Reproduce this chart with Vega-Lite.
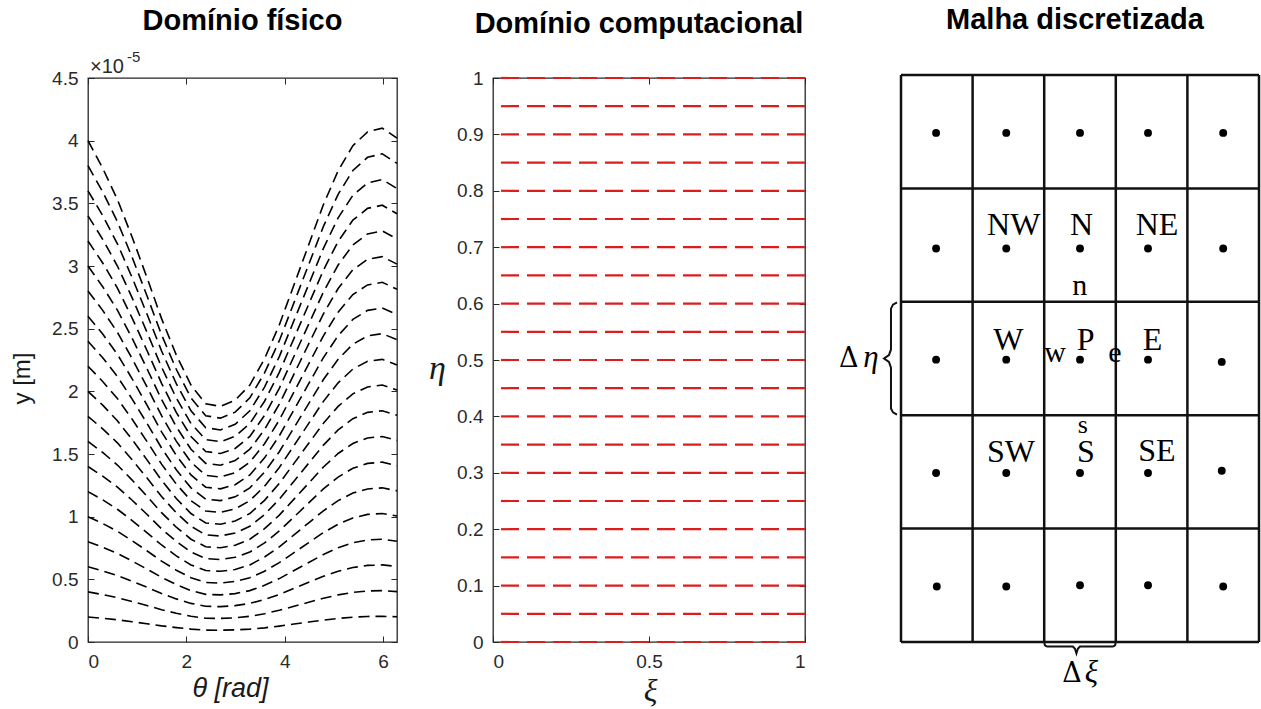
{
"$schema":"https://vega.github.io/schema/vega-lite/v6.json",
"autosize":{"type":"none"},
"padding":{"left":88,"top":78,"right":1173,"bottom":631},
"background":"white",
"spacing":96,
"bounds":"flush",
"config":{
 "view":{"stroke":"#262626","strokeWidth":1.3},
 "axis":{"labelFont":"Liberation Sans","labelFontSize":19,"labelColor":"#2a2a2a","tickColor":"#262626","tickSize":-6,"tickWidth":1,"labelPadding":16,"domain":false,"grid":false,"titleFont":"Liberation Sans","titleFontWeight":"normal","titleColor":"#1a1a1a"},
 "title":{"font":"Liberation Sans","fontSize":29,"fontWeight":"bold","color":"#000000","anchor":"middle","frame":"group"}
},
"hconcat":[
{
"width":309,"height":564,
"title":{"text":"Domínio físico","offset":14},
"resolve":{"axis":{"x":"independent","y":"independent"}},
"layer":[
{"data":{"values":[
{"k":1,"t":0,"y":0.2},{"k":1,"t":0.299,"y":0.189},{"k":1,"t":0.598,"y":0.177},{"k":1,"t":0.898,"y":0.162},{"k":1,"t":1.197,"y":0.146},{"k":1,"t":1.496,"y":0.129},{"k":1,"t":1.795,"y":0.115},{"k":1,"t":2.094,"y":0.103},{"k":1,"t":2.394,"y":0.095},{"k":1,"t":2.693,"y":0.094},{"k":1,"t":2.992,"y":0.097},{"k":1,"t":3.291,"y":0.103},{"k":1,"t":3.59,"y":0.113},{"k":1,"t":3.89,"y":0.127},{"k":1,"t":4.189,"y":0.143},{"k":1,"t":4.488,"y":0.159},{"k":1,"t":4.787,"y":0.175},{"k":1,"t":5.086,"y":0.188},{"k":1,"t":5.386,"y":0.198},{"k":1,"t":5.685,"y":0.204},{"k":1,"t":5.984,"y":0.205},{"k":1,"t":6.283,"y":0.201},
{"k":2,"t":0,"y":0.4},{"k":2,"t":0.299,"y":0.378},{"k":2,"t":0.598,"y":0.353},{"k":2,"t":0.898,"y":0.323},{"k":2,"t":1.197,"y":0.291},{"k":2,"t":1.496,"y":0.258},{"k":2,"t":1.795,"y":0.229},{"k":2,"t":2.094,"y":0.205},{"k":2,"t":2.394,"y":0.19},{"k":2,"t":2.693,"y":0.188},{"k":2,"t":2.992,"y":0.193},{"k":2,"t":3.291,"y":0.205},{"k":2,"t":3.59,"y":0.226},{"k":2,"t":3.89,"y":0.253},{"k":2,"t":4.189,"y":0.285},{"k":2,"t":4.488,"y":0.317},{"k":2,"t":4.787,"y":0.349},{"k":2,"t":5.086,"y":0.376},{"k":2,"t":5.386,"y":0.396},{"k":2,"t":5.685,"y":0.407},{"k":2,"t":5.984,"y":0.41},{"k":2,"t":6.283,"y":0.402},
{"k":3,"t":0,"y":0.6},{"k":3,"t":0.299,"y":0.567},{"k":3,"t":0.598,"y":0.53},{"k":3,"t":0.898,"y":0.485},{"k":3,"t":1.197,"y":0.437},{"k":3,"t":1.496,"y":0.387},{"k":3,"t":1.795,"y":0.344},{"k":3,"t":2.094,"y":0.308},{"k":3,"t":2.394,"y":0.285},{"k":3,"t":2.693,"y":0.282},{"k":3,"t":2.992,"y":0.29},{"k":3,"t":3.291,"y":0.308},{"k":3,"t":3.59,"y":0.339},{"k":3,"t":3.89,"y":0.38},{"k":3,"t":4.189,"y":0.428},{"k":3,"t":4.488,"y":0.476},{"k":3,"t":4.787,"y":0.524},{"k":3,"t":5.086,"y":0.564},{"k":3,"t":5.386,"y":0.594},{"k":3,"t":5.685,"y":0.611},{"k":3,"t":5.984,"y":0.615},{"k":3,"t":6.283,"y":0.603},
{"k":4,"t":0,"y":0.8},{"k":4,"t":0.299,"y":0.756},{"k":4,"t":0.598,"y":0.706},{"k":4,"t":0.898,"y":0.646},{"k":4,"t":1.197,"y":0.582},{"k":4,"t":1.496,"y":0.516},{"k":4,"t":1.795,"y":0.458},{"k":4,"t":2.094,"y":0.41},{"k":4,"t":2.394,"y":0.38},{"k":4,"t":2.693,"y":0.376},{"k":4,"t":2.992,"y":0.386},{"k":4,"t":3.291,"y":0.41},{"k":4,"t":3.59,"y":0.452},{"k":4,"t":3.89,"y":0.506},{"k":4,"t":4.189,"y":0.57},{"k":4,"t":4.488,"y":0.634},{"k":4,"t":4.787,"y":0.698},{"k":4,"t":5.086,"y":0.752},{"k":4,"t":5.386,"y":0.792},{"k":4,"t":5.685,"y":0.814},{"k":4,"t":5.984,"y":0.82},{"k":4,"t":6.283,"y":0.804},
{"k":5,"t":0,"y":1},{"k":5,"t":0.299,"y":0.945},{"k":5,"t":0.598,"y":0.883},{"k":5,"t":0.898,"y":0.808},{"k":5,"t":1.197,"y":0.728},{"k":5,"t":1.496,"y":0.645},{"k":5,"t":1.795,"y":0.573},{"k":5,"t":2.094,"y":0.513},{"k":5,"t":2.394,"y":0.475},{"k":5,"t":2.693,"y":0.47},{"k":5,"t":2.992,"y":0.483},{"k":5,"t":3.291,"y":0.513},{"k":5,"t":3.59,"y":0.565},{"k":5,"t":3.89,"y":0.633},{"k":5,"t":4.189,"y":0.713},{"k":5,"t":4.488,"y":0.793},{"k":5,"t":4.787,"y":0.873},{"k":5,"t":5.086,"y":0.94},{"k":5,"t":5.386,"y":0.99},{"k":5,"t":5.685,"y":1.018},{"k":5,"t":5.984,"y":1.025},{"k":5,"t":6.283,"y":1.005},
{"k":6,"t":0,"y":1.2},{"k":6,"t":0.299,"y":1.134},{"k":6,"t":0.598,"y":1.059},{"k":6,"t":0.898,"y":0.969},{"k":6,"t":1.197,"y":0.873},{"k":6,"t":1.496,"y":0.774},{"k":6,"t":1.795,"y":0.687},{"k":6,"t":2.094,"y":0.615},{"k":6,"t":2.394,"y":0.57},{"k":6,"t":2.693,"y":0.564},{"k":6,"t":2.992,"y":0.579},{"k":6,"t":3.291,"y":0.615},{"k":6,"t":3.59,"y":0.678},{"k":6,"t":3.89,"y":0.759},{"k":6,"t":4.189,"y":0.855},{"k":6,"t":4.488,"y":0.951},{"k":6,"t":4.787,"y":1.047},{"k":6,"t":5.086,"y":1.128},{"k":6,"t":5.386,"y":1.188},{"k":6,"t":5.685,"y":1.221},{"k":6,"t":5.984,"y":1.23},{"k":6,"t":6.283,"y":1.206},
{"k":7,"t":0,"y":1.4},{"k":7,"t":0.299,"y":1.323},{"k":7,"t":0.598,"y":1.236},{"k":7,"t":0.898,"y":1.131},{"k":7,"t":1.197,"y":1.019},{"k":7,"t":1.496,"y":0.903},{"k":7,"t":1.795,"y":0.802},{"k":7,"t":2.094,"y":0.718},{"k":7,"t":2.394,"y":0.665},{"k":7,"t":2.693,"y":0.658},{"k":7,"t":2.992,"y":0.676},{"k":7,"t":3.291,"y":0.718},{"k":7,"t":3.59,"y":0.791},{"k":7,"t":3.89,"y":0.886},{"k":7,"t":4.189,"y":0.998},{"k":7,"t":4.488,"y":1.11},{"k":7,"t":4.787,"y":1.222},{"k":7,"t":5.086,"y":1.316},{"k":7,"t":5.386,"y":1.386},{"k":7,"t":5.685,"y":1.425},{"k":7,"t":5.984,"y":1.435},{"k":7,"t":6.283,"y":1.407},
{"k":8,"t":0,"y":1.6},{"k":8,"t":0.299,"y":1.512},{"k":8,"t":0.598,"y":1.412},{"k":8,"t":0.898,"y":1.292},{"k":8,"t":1.197,"y":1.164},{"k":8,"t":1.496,"y":1.032},{"k":8,"t":1.795,"y":0.916},{"k":8,"t":2.094,"y":0.82},{"k":8,"t":2.394,"y":0.76},{"k":8,"t":2.693,"y":0.752},{"k":8,"t":2.992,"y":0.772},{"k":8,"t":3.291,"y":0.82},{"k":8,"t":3.59,"y":0.904},{"k":8,"t":3.89,"y":1.012},{"k":8,"t":4.189,"y":1.14},{"k":8,"t":4.488,"y":1.268},{"k":8,"t":4.787,"y":1.396},{"k":8,"t":5.086,"y":1.504},{"k":8,"t":5.386,"y":1.584},{"k":8,"t":5.685,"y":1.628},{"k":8,"t":5.984,"y":1.64},{"k":8,"t":6.283,"y":1.608},
{"k":9,"t":0,"y":1.8},{"k":9,"t":0.299,"y":1.701},{"k":9,"t":0.598,"y":1.589},{"k":9,"t":0.898,"y":1.454},{"k":9,"t":1.197,"y":1.31},{"k":9,"t":1.496,"y":1.161},{"k":9,"t":1.795,"y":1.031},{"k":9,"t":2.094,"y":0.923},{"k":9,"t":2.394,"y":0.855},{"k":9,"t":2.693,"y":0.846},{"k":9,"t":2.992,"y":0.869},{"k":9,"t":3.291,"y":0.923},{"k":9,"t":3.59,"y":1.017},{"k":9,"t":3.89,"y":1.139},{"k":9,"t":4.189,"y":1.283},{"k":9,"t":4.488,"y":1.427},{"k":9,"t":4.787,"y":1.571},{"k":9,"t":5.086,"y":1.692},{"k":9,"t":5.386,"y":1.782},{"k":9,"t":5.685,"y":1.832},{"k":9,"t":5.984,"y":1.845},{"k":9,"t":6.283,"y":1.809},
{"k":10,"t":0,"y":2},{"k":10,"t":0.299,"y":1.89},{"k":10,"t":0.598,"y":1.765},{"k":10,"t":0.898,"y":1.615},{"k":10,"t":1.197,"y":1.455},{"k":10,"t":1.496,"y":1.29},{"k":10,"t":1.795,"y":1.145},{"k":10,"t":2.094,"y":1.025},{"k":10,"t":2.394,"y":0.95},{"k":10,"t":2.693,"y":0.94},{"k":10,"t":2.992,"y":0.965},{"k":10,"t":3.291,"y":1.025},{"k":10,"t":3.59,"y":1.13},{"k":10,"t":3.89,"y":1.265},{"k":10,"t":4.189,"y":1.425},{"k":10,"t":4.488,"y":1.585},{"k":10,"t":4.787,"y":1.745},{"k":10,"t":5.086,"y":1.88},{"k":10,"t":5.386,"y":1.98},{"k":10,"t":5.685,"y":2.035},{"k":10,"t":5.984,"y":2.05},{"k":10,"t":6.283,"y":2.01},
{"k":11,"t":0,"y":2.2},{"k":11,"t":0.299,"y":2.079},{"k":11,"t":0.598,"y":1.942},{"k":11,"t":0.898,"y":1.777},{"k":11,"t":1.197,"y":1.601},{"k":11,"t":1.496,"y":1.419},{"k":11,"t":1.795,"y":1.26},{"k":11,"t":2.094,"y":1.128},{"k":11,"t":2.394,"y":1.045},{"k":11,"t":2.693,"y":1.034},{"k":11,"t":2.992,"y":1.062},{"k":11,"t":3.291,"y":1.128},{"k":11,"t":3.59,"y":1.243},{"k":11,"t":3.89,"y":1.392},{"k":11,"t":4.189,"y":1.568},{"k":11,"t":4.488,"y":1.744},{"k":11,"t":4.787,"y":1.92},{"k":11,"t":5.086,"y":2.068},{"k":11,"t":5.386,"y":2.178},{"k":11,"t":5.685,"y":2.239},{"k":11,"t":5.984,"y":2.255},{"k":11,"t":6.283,"y":2.211},
{"k":12,"t":0,"y":2.4},{"k":12,"t":0.299,"y":2.268},{"k":12,"t":0.598,"y":2.118},{"k":12,"t":0.898,"y":1.938},{"k":12,"t":1.197,"y":1.746},{"k":12,"t":1.496,"y":1.548},{"k":12,"t":1.795,"y":1.374},{"k":12,"t":2.094,"y":1.23},{"k":12,"t":2.394,"y":1.14},{"k":12,"t":2.693,"y":1.128},{"k":12,"t":2.992,"y":1.158},{"k":12,"t":3.291,"y":1.23},{"k":12,"t":3.59,"y":1.356},{"k":12,"t":3.89,"y":1.518},{"k":12,"t":4.189,"y":1.71},{"k":12,"t":4.488,"y":1.902},{"k":12,"t":4.787,"y":2.094},{"k":12,"t":5.086,"y":2.256},{"k":12,"t":5.386,"y":2.376},{"k":12,"t":5.685,"y":2.442},{"k":12,"t":5.984,"y":2.46},{"k":12,"t":6.283,"y":2.412},
{"k":13,"t":0,"y":2.6},{"k":13,"t":0.299,"y":2.457},{"k":13,"t":0.598,"y":2.295},{"k":13,"t":0.898,"y":2.1},{"k":13,"t":1.197,"y":1.892},{"k":13,"t":1.496,"y":1.677},{"k":13,"t":1.795,"y":1.489},{"k":13,"t":2.094,"y":1.333},{"k":13,"t":2.394,"y":1.235},{"k":13,"t":2.693,"y":1.222},{"k":13,"t":2.992,"y":1.255},{"k":13,"t":3.291,"y":1.333},{"k":13,"t":3.59,"y":1.469},{"k":13,"t":3.89,"y":1.645},{"k":13,"t":4.189,"y":1.853},{"k":13,"t":4.488,"y":2.061},{"k":13,"t":4.787,"y":2.269},{"k":13,"t":5.086,"y":2.444},{"k":13,"t":5.386,"y":2.574},{"k":13,"t":5.685,"y":2.646},{"k":13,"t":5.984,"y":2.665},{"k":13,"t":6.283,"y":2.613},
{"k":14,"t":0,"y":2.8},{"k":14,"t":0.299,"y":2.646},{"k":14,"t":0.598,"y":2.471},{"k":14,"t":0.898,"y":2.261},{"k":14,"t":1.197,"y":2.037},{"k":14,"t":1.496,"y":1.806},{"k":14,"t":1.795,"y":1.603},{"k":14,"t":2.094,"y":1.435},{"k":14,"t":2.394,"y":1.33},{"k":14,"t":2.693,"y":1.316},{"k":14,"t":2.992,"y":1.351},{"k":14,"t":3.291,"y":1.435},{"k":14,"t":3.59,"y":1.582},{"k":14,"t":3.89,"y":1.771},{"k":14,"t":4.189,"y":1.995},{"k":14,"t":4.488,"y":2.219},{"k":14,"t":4.787,"y":2.443},{"k":14,"t":5.086,"y":2.632},{"k":14,"t":5.386,"y":2.772},{"k":14,"t":5.685,"y":2.849},{"k":14,"t":5.984,"y":2.87},{"k":14,"t":6.283,"y":2.814},
{"k":15,"t":0,"y":3},{"k":15,"t":0.299,"y":2.835},{"k":15,"t":0.598,"y":2.648},{"k":15,"t":0.898,"y":2.423},{"k":15,"t":1.197,"y":2.183},{"k":15,"t":1.496,"y":1.935},{"k":15,"t":1.795,"y":1.718},{"k":15,"t":2.094,"y":1.538},{"k":15,"t":2.394,"y":1.425},{"k":15,"t":2.693,"y":1.41},{"k":15,"t":2.992,"y":1.448},{"k":15,"t":3.291,"y":1.538},{"k":15,"t":3.59,"y":1.695},{"k":15,"t":3.89,"y":1.898},{"k":15,"t":4.189,"y":2.138},{"k":15,"t":4.488,"y":2.378},{"k":15,"t":4.787,"y":2.618},{"k":15,"t":5.086,"y":2.82},{"k":15,"t":5.386,"y":2.97},{"k":15,"t":5.685,"y":3.053},{"k":15,"t":5.984,"y":3.075},{"k":15,"t":6.283,"y":3.015},
{"k":16,"t":0,"y":3.2},{"k":16,"t":0.299,"y":3.024},{"k":16,"t":0.598,"y":2.824},{"k":16,"t":0.898,"y":2.584},{"k":16,"t":1.197,"y":2.328},{"k":16,"t":1.496,"y":2.064},{"k":16,"t":1.795,"y":1.832},{"k":16,"t":2.094,"y":1.64},{"k":16,"t":2.394,"y":1.52},{"k":16,"t":2.693,"y":1.504},{"k":16,"t":2.992,"y":1.544},{"k":16,"t":3.291,"y":1.64},{"k":16,"t":3.59,"y":1.808},{"k":16,"t":3.89,"y":2.024},{"k":16,"t":4.189,"y":2.28},{"k":16,"t":4.488,"y":2.536},{"k":16,"t":4.787,"y":2.792},{"k":16,"t":5.086,"y":3.008},{"k":16,"t":5.386,"y":3.168},{"k":16,"t":5.685,"y":3.256},{"k":16,"t":5.984,"y":3.28},{"k":16,"t":6.283,"y":3.216},
{"k":17,"t":0,"y":3.4},{"k":17,"t":0.299,"y":3.213},{"k":17,"t":0.598,"y":3},{"k":17,"t":0.898,"y":2.746},{"k":17,"t":1.197,"y":2.474},{"k":17,"t":1.496,"y":2.193},{"k":17,"t":1.795,"y":1.947},{"k":17,"t":2.094,"y":1.743},{"k":17,"t":2.394,"y":1.615},{"k":17,"t":2.693,"y":1.598},{"k":17,"t":2.992,"y":1.641},{"k":17,"t":3.291,"y":1.743},{"k":17,"t":3.59,"y":1.921},{"k":17,"t":3.89,"y":2.151},{"k":17,"t":4.189,"y":2.423},{"k":17,"t":4.488,"y":2.695},{"k":17,"t":4.787,"y":2.967},{"k":17,"t":5.086,"y":3.196},{"k":17,"t":5.386,"y":3.366},{"k":17,"t":5.685,"y":3.46},{"k":17,"t":5.984,"y":3.485},{"k":17,"t":6.283,"y":3.417},
{"k":18,"t":0,"y":3.6},{"k":18,"t":0.299,"y":3.402},{"k":18,"t":0.598,"y":3.177},{"k":18,"t":0.898,"y":2.907},{"k":18,"t":1.197,"y":2.619},{"k":18,"t":1.496,"y":2.322},{"k":18,"t":1.795,"y":2.061},{"k":18,"t":2.094,"y":1.845},{"k":18,"t":2.394,"y":1.71},{"k":18,"t":2.693,"y":1.692},{"k":18,"t":2.992,"y":1.737},{"k":18,"t":3.291,"y":1.845},{"k":18,"t":3.59,"y":2.034},{"k":18,"t":3.89,"y":2.277},{"k":18,"t":4.189,"y":2.565},{"k":18,"t":4.488,"y":2.853},{"k":18,"t":4.787,"y":3.141},{"k":18,"t":5.086,"y":3.384},{"k":18,"t":5.386,"y":3.564},{"k":18,"t":5.685,"y":3.663},{"k":18,"t":5.984,"y":3.69},{"k":18,"t":6.283,"y":3.618},
{"k":19,"t":0,"y":3.8},{"k":19,"t":0.299,"y":3.591},{"k":19,"t":0.598,"y":3.354},{"k":19,"t":0.898,"y":3.069},{"k":19,"t":1.197,"y":2.765},{"k":19,"t":1.496,"y":2.451},{"k":19,"t":1.795,"y":2.176},{"k":19,"t":2.094,"y":1.948},{"k":19,"t":2.394,"y":1.805},{"k":19,"t":2.693,"y":1.786},{"k":19,"t":2.992,"y":1.834},{"k":19,"t":3.291,"y":1.948},{"k":19,"t":3.59,"y":2.147},{"k":19,"t":3.89,"y":2.404},{"k":19,"t":4.189,"y":2.708},{"k":19,"t":4.488,"y":3.012},{"k":19,"t":4.787,"y":3.316},{"k":19,"t":5.086,"y":3.572},{"k":19,"t":5.386,"y":3.762},{"k":19,"t":5.685,"y":3.867},{"k":19,"t":5.984,"y":3.895},{"k":19,"t":6.283,"y":3.819},
{"k":20,"t":0,"y":4},{"k":20,"t":0.299,"y":3.78},{"k":20,"t":0.598,"y":3.53},{"k":20,"t":0.898,"y":3.23},{"k":20,"t":1.197,"y":2.91},{"k":20,"t":1.496,"y":2.58},{"k":20,"t":1.795,"y":2.29},{"k":20,"t":2.094,"y":2.05},{"k":20,"t":2.394,"y":1.9},{"k":20,"t":2.693,"y":1.88},{"k":20,"t":2.992,"y":1.93},{"k":20,"t":3.291,"y":2.05},{"k":20,"t":3.59,"y":2.26},{"k":20,"t":3.89,"y":2.53},{"k":20,"t":4.189,"y":2.85},{"k":20,"t":4.488,"y":3.17},{"k":20,"t":4.787,"y":3.49},{"k":20,"t":5.086,"y":3.76},{"k":20,"t":5.386,"y":3.96},{"k":20,"t":5.685,"y":4.07},{"k":20,"t":5.984,"y":4.1},{"k":20,"t":6.283,"y":4.02}
]},
 "mark":{"type":"line","stroke":"#000000","strokeWidth":1.6,"strokeDash":[11,6]},
 "encoding":{
  "x":{"field":"t","type":"quantitative","scale":{"domain":[0,6.2832],"nice":false,"zero":false},
   "axis":{"values":[0,2,4,6],"title":"θ [rad]","titleFontSize":27,"titleFontStyle":"italic","titleX":142,"titleY":46,"titleBaseline":"middle","titleAlign":"center"}},
  "y":{"field":"y","type":"quantitative","scale":{"domain":[0,4.5],"nice":false},
   "axis":{"values":[0,0.5,1,1.5,2,2.5,3,3.5,4,4.5],"format":"~g","title":"y [m]","titleFontSize":24,"titleX":-66,"titleY":300,"titleBaseline":"middle","titleAlign":"center","titleAngle":-90}},
  "detail":{"field":"k","type":"nominal"}
 }},
{"data":{"name":"exp","values":[{"t":0,"y":4.5,"s":"×10","p":"base"},{"t":0,"y":4.5,"s":"-5","p":"sup"}]},
 "transform":[{"filter":"datum.p === 'base'"}],
 "mark":{"type":"text","align":"left","baseline":"alphabetic","dx":2,"dy":-5,"fontSize":20,"font":"Liberation Sans","color":"#2a2a2a"},
 "encoding":{
  "x":{"field":"t","type":"quantitative","axis":{"orient":"top","labels":false,"title":null,"values":[0,2,4,6]}},
  "y":{"field":"y","type":"quantitative","axis":{"orient":"right","labels":false,"title":null,"values":[0,0.5,1,1.5,2,2.5,3,3.5,4,4.5]}},
  "text":{"field":"s"}
 }},
{"data":{"name":"exp"},
 "transform":[{"filter":"datum.p === 'sup'"}],
 "mark":{"type":"text","align":"left","baseline":"alphabetic","dx":39,"dy":-16,"fontSize":15,"font":"Liberation Sans","color":"#2a2a2a"},
 "encoding":{
  "x":{"field":"t","type":"quantitative","axis":null},
  "y":{"field":"y","type":"quantitative","axis":null},
  "text":{"field":"s"}
 }}
]
},
{
"width":312,"height":564,
"title":{"text":"Domínio computacional","dx":-10,"offset":30},
"resolve":{"axis":{"x":"independent","y":"independent"}},
"layer":[
{"data":{"values":[{"e":0},{"e":0.05},{"e":0.1},{"e":0.15},{"e":0.2},{"e":0.25},{"e":0.3},{"e":0.35},{"e":0.4},{"e":0.45},{"e":0.5},{"e":0.55},{"e":0.6},{"e":0.65},{"e":0.7},{"e":0.75},{"e":0.8},{"e":0.85},{"e":0.9},{"e":0.95},{"e":1}]},
 "mark":{"type":"rule","color":"#dd1c1c","strokeWidth":2.2,"strokeDash":[18,8]},
 "encoding":{
  "y":{"field":"e","type":"quantitative","scale":{"domain":[0,1],"nice":false},
   "axis":{"values":[0,0.1,0.2,0.3,0.4,0.5,0.6,0.7,0.8,0.9,1],"format":"~g","title":"η","titleFont":"Liberation Serif","titleFontStyle":"italic","titleFontSize":34,"titleAngle":0,"titleX":-56,"titleY":290,"titleBaseline":"middle","titleAlign":"center"}}
 }},
{"data":{"values":[{"x":0,"y":0},{"x":1,"y":1}]},
 "mark":{"type":"point","opacity":0},
 "encoding":{
  "x":{"field":"x","type":"quantitative","scale":{"domain":[0,1],"nice":false},
   "axis":{"values":[0,0.5,1],"format":"~g","title":"ξ","titleFont":"Liberation Serif","titleFontStyle":"italic","titleFontSize":32,"titleX":157,"titleY":48,"titleBaseline":"middle","titleAlign":"center"}},
  "y":{"field":"y","type":"quantitative","axis":{"orient":"right","labels":false,"title":null,"values":[0,0.1,0.2,0.3,0.4,0.5,0.6,0.7,0.8,0.9,1]}}
 }},
{"data":{"values":[{"x":0,"y":0}]},
 "mark":{"type":"point","opacity":0},
 "encoding":{
  "x":{"field":"x","type":"quantitative","axis":{"orient":"top","labels":false,"title":null,"values":[0,0.5,1]}},
  "y":{"field":"y","type":"quantitative","axis":null}
 }}
]
},
{
"width":358,"height":564,
"title":{"text":"Malha discretizada","dx":-5,"offset":39},
"view":{"stroke":null},
"layer":[
{"data":{"values":[{"gx":0},{"gx":1},{"gx":2},{"gx":3},{"gx":4},{"gx":5}]},
 "mark":{"type":"rule","color":"#111111","strokeWidth":2.5},
 "encoding":{
  "x":{"field":"gx","type":"quantitative","scale":{"domain":[0,5],"nice":false,"zero":false},"axis":null},
  "y":{"datum":0,"type":"quantitative","scale":{"domain":[0,4.974],"nice":false,"zero":false},"axis":null},
  "y2":{"datum":5}
 }},
{"data":{"values":[{"gy":0},{"gy":1},{"gy":2},{"gy":3},{"gy":4},{"gy":5}]},
 "mark":{"type":"rule","color":"#111111","strokeWidth":2.5},
 "encoding":{
  "y":{"field":"gy","type":"quantitative","axis":null},
  "x":{"datum":0,"type":"quantitative","axis":null},
  "x2":{"datum":5}
 }},
{"data":{"values":[
{"x":0.49,"y":4.49},{"x":1.47,"y":4.49},{"x":2.5,"y":4.49},{"x":3.45,"y":4.49},{"x":4.5,"y":4.49},
{"x":0.49,"y":3.47},{"x":1.47,"y":3.47},{"x":2.5,"y":3.47},{"x":3.45,"y":3.47},{"x":4.5,"y":3.47},
{"x":0.49,"y":2.49},{"x":1.47,"y":2.49},{"x":2.5,"y":2.49},{"x":3.45,"y":2.49},{"x":4.48,"y":2.47},
{"x":0.49,"y":1.49},{"x":1.47,"y":1.49},{"x":2.5,"y":1.49},{"x":3.45,"y":1.49},{"x":4.48,"y":1.51},
{"x":0.5,"y":0.49},{"x":1.47,"y":0.49},{"x":2.5,"y":0.5},{"x":3.45,"y":0.5},{"x":4.5,"y":0.49}
]},
 "mark":{"type":"circle","size":62,"color":"#000000","opacity":1},
 "encoding":{
  "x":{"field":"x","type":"quantitative","axis":null},
  "y":{"field":"y","type":"quantitative","axis":null}
 }},
{"data":{"name":"labels","values":[
{"lx":1.575,"ly":3.589,"s":"NW","c":"node"},
{"lx":2.521,"ly":3.589,"s":"N","c":"node"},
{"lx":3.575,"ly":3.589,"s":"NE","c":"node"},
{"lx":1.499,"ly":2.575,"s":"W","c":"node"},
{"lx":2.58,"ly":2.575,"s":"P","c":"node"},
{"lx":3.513,"ly":2.575,"s":"E","c":"node"},
{"lx":2.584,"ly":1.59,"s":"S","c":"node"},
{"lx":1.536,"ly":1.59,"s":"SW","c":"node"},
{"lx":3.575,"ly":1.596,"s":"SE","c":"node"},
{"lx":2.496,"ly":3.06,"s":"n","c":"face"},
{"lx":2.151,"ly":2.472,"s":"w","c":"face"},
{"lx":2.989,"ly":2.472,"s":"e","c":"face"},
{"lx":2.539,"ly":1.84,"s":"s","c":"small"},
{"lx":-0.73,"ly":2.428,"s":"Δ","c":"delta"},
{"lx":2.39,"ly":-0.35,"s":"Δ","c":"delta"},
{"lx":-0.42,"ly":2.428,"s":"η","c":"greek"},
{"lx":2.66,"ly":-0.35,"s":"ξ","c":"greek"}
]},
 "transform":[{"filter":"datum.c === 'node'"}],
 "mark":{"type":"text","font":"Liberation Serif","fontSize":32,"color":"#000000","align":"center","baseline":"alphabetic"},
 "encoding":{"x":{"field":"lx","type":"quantitative","axis":null},"y":{"field":"ly","type":"quantitative","axis":null},"text":{"field":"s"}}},
{"data":{"name":"labels"},
 "transform":[{"filter":"datum.c === 'face'"}],
 "mark":{"type":"text","font":"Liberation Serif","fontSize":30,"color":"#000000","align":"center","baseline":"alphabetic"},
 "encoding":{"x":{"field":"lx","type":"quantitative","axis":null},"y":{"field":"ly","type":"quantitative","axis":null},"text":{"field":"s"}}},
{"data":{"name":"labels"},
 "transform":[{"filter":"datum.c === 'small'"}],
 "mark":{"type":"text","font":"Liberation Serif","fontSize":26,"color":"#000000","align":"center","baseline":"alphabetic"},
 "encoding":{"x":{"field":"lx","type":"quantitative","axis":null},"y":{"field":"ly","type":"quantitative","axis":null},"text":{"field":"s"}}},
{"data":{"name":"labels"},
 "transform":[{"filter":"datum.c === 'delta'"}],
 "mark":{"type":"text","font":"DejaVu Serif","fontSize":27,"color":"#000000","align":"center","baseline":"alphabetic"},
 "encoding":{"x":{"field":"lx","type":"quantitative","axis":null},"y":{"field":"ly","type":"quantitative","axis":null},"text":{"field":"s"}}},
{"data":{"name":"labels"},
 "transform":[{"filter":"datum.c === 'greek'"}],
 "mark":{"type":"text","font":"Liberation Serif","fontSize":31,"fontStyle":"italic","color":"#000000","align":"center","baseline":"alphabetic"},
 "encoding":{"x":{"field":"lx","type":"quantitative","axis":null},"y":{"field":"ly","type":"quantitative","axis":null},"text":{"field":"s"}}},
{"data":{"values":[
{"g":"L","o":1,"bx":-0.056,"by":2.995},{"g":"L","o":2,"bx":-0.112,"by":2.975},{"g":"L","o":3,"bx":-0.14,"by":2.94},{"g":"L","o":4,"bx":-0.14,"by":2.58},{"g":"L","o":5,"bx":-0.168,"by":2.53},{"g":"L","o":6,"bx":-0.237,"by":2.5},{"g":"L","o":7,"bx":-0.168,"by":2.47},{"g":"L","o":8,"bx":-0.14,"by":2.42},{"g":"L","o":9,"bx":-0.14,"by":2.06},{"g":"L","o":10,"bx":-0.112,"by":2.025},{"g":"L","o":11,"bx":-0.056,"by":2.005},
{"g":"B","o":1,"bx":2.0,"by":0.0},{"g":"B","o":2,"bx":2.01,"by":-0.03},{"g":"B","o":3,"bx":2.04,"by":-0.04},{"g":"B","o":4,"bx":2.4,"by":-0.04},{"g":"B","o":5,"bx":2.43,"by":-0.06},{"g":"B","o":6,"bx":2.45,"by":-0.1},{"g":"B","o":7,"bx":2.47,"by":-0.06},{"g":"B","o":8,"bx":2.5,"by":-0.04},{"g":"B","o":9,"bx":2.96,"by":-0.04},{"g":"B","o":10,"bx":2.99,"by":-0.03},{"g":"B","o":11,"bx":3.0,"by":0.0}
]},
 "mark":{"type":"line","color":"#111111","strokeWidth":2},
 "encoding":{
  "x":{"field":"bx","type":"quantitative","axis":null},
  "y":{"field":"by","type":"quantitative","axis":null},
  "detail":{"field":"g","type":"nominal"},
  "order":{"field":"o","type":"quantitative"}
 }}
]
}
]
}
